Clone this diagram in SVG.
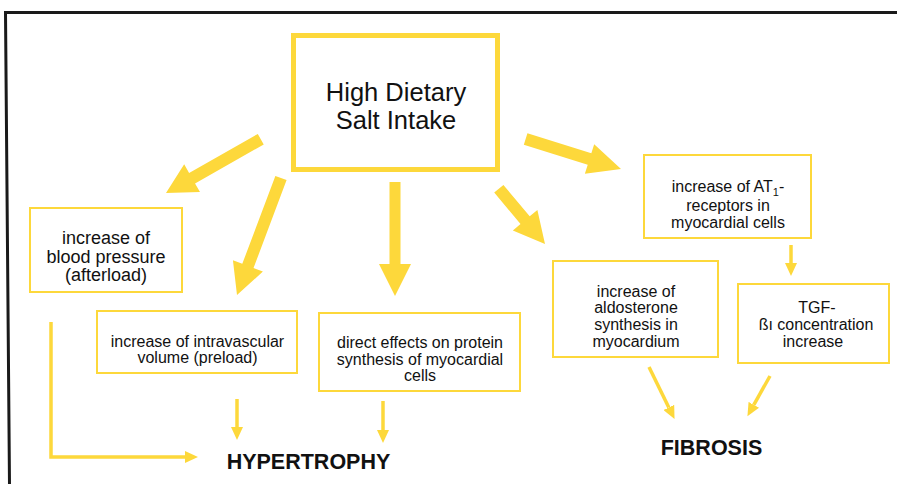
<svg xmlns="http://www.w3.org/2000/svg" width="897" height="484" viewBox="0 0 897 484">
  <style>
    .box { fill: #ffffff; stroke: #FDD83B; stroke-width: 2; }
    .main { fill: #ffffff; stroke: #FDD83B; stroke-width: 5; }
    .thick { fill: #FDD83B; stroke: none; }
    .thin { fill: none; stroke: #FDD83B; stroke-width: 3.5; }
    text { font-family: "Liberation Sans", Arial, sans-serif; fill: #111111; text-anchor: middle; }
    .t16 { font-size: 16px; }
    .t18 { font-size: 18px; }
    .title { font-size: 25.5px; }
    .out { font-size: 21.5px; font-weight: bold; }
  </style>
  <defs>
    <marker id="ah" markerUnits="userSpaceOnUse" markerWidth="14" markerHeight="12" refX="0" refY="6" orient="auto">
      <path d="M0,0 L13,6 L0,12 Z" fill="#FDD83B"/>
    </marker>
  </defs>
  <rect x="0" y="0" width="897" height="484" fill="#ffffff"/>
  <path d="M9.5,484 L5.5,12.5 L897,12.5" fill="none" stroke="#1a1a1a" stroke-width="3"/>

  <g id="connectors">
    <path class="thick" transform="translate(166,193) rotate(150.4)" d="M0,0 L-30,-16 L-30,-6 L-109,-6 L-109,6 L-30,6 L-30,16 Z"/>
    <path class="thick" transform="translate(237,295) rotate(110.6)" d="M0,0 L-31,-16 L-31,-6 L-125,-6 L-125,6 L-31,6 L-31,16 Z"/>
    <path class="thick" transform="translate(395,296) rotate(90)" d="M0,0 L-32,-16 L-32,-5.5 L-114,-5.5 L-114,5.5 L-32,5.5 L-32,16 Z"/>
    <path class="thick" transform="translate(545,244) rotate(50.1)" d="M0,0 L-31,-16 L-31,-6 L-72,-6 L-72,6 L-31,6 L-31,16 Z"/>
    <path class="thick" transform="translate(621,169) rotate(17.5)" d="M0,0 L-33,-15.5 L-33,-6 L-100,-6 L-100,6 L-33,6 L-33,15.5 Z"/>
    <path class="thin" d="M237,399 L237,427" marker-end="url(#ah)"/>
    <path class="thin" d="M383,401 L383,430" marker-end="url(#ah)"/>
    <path class="thin" d="M791,245 L791,263" marker-end="url(#ah)"/>
    <path class="thin" d="M51,322 L51,457 L185,457" marker-end="url(#ah)"/>
    <path class="thin" d="M649,367 L668.8,407.4" marker-end="url(#ah)"/>
    <path class="thin" d="M770,376 L753.8,404.8" marker-end="url(#ah)"/>
  </g>

  <g id="salt">
    <rect class="main" x="293.5" y="35.5" width="204" height="134"/>
    <text class="title" x="396" y="101">High Dietary</text>
    <text class="title" x="396" y="128.5">Salt Intake</text>
  </g>

  <g id="bloodpressure">
    <rect class="box" x="30" y="208" width="152" height="84"/>
    <text class="t18" x="106" y="244">increase of</text>
    <text class="t18" x="106" y="262.5">blood pressure</text>
    <text class="t18" x="106" y="281">(afterload)</text>
  </g>

  <g id="preload">
    <rect class="box" x="97" y="311" width="200" height="62"/>
    <text class="t16" x="197.5" y="347">increase of intravascular</text>
    <text class="t16" x="197.5" y="363">volume (preload)</text>
  </g>

  <g id="protein">
    <rect class="box" x="319" y="313" width="201" height="78"/>
    <text class="t16" x="420" y="348">direct effects on protein</text>
    <text class="t16" x="420" y="365">synthesis of myocardial</text>
    <text class="t16" x="420" y="381">cells</text>
  </g>

  <g id="at1">
    <rect class="box" x="644" y="155" width="167" height="83"/>
    <text class="t16" x="728" y="192">increase of AT<tspan font-size="11" dy="4">1</tspan><tspan dy="-4">-</tspan></text>
    <text class="t16" x="728" y="211">receptors in</text>
    <text class="t16" x="728" y="228">myocardial cells</text>
  </g>

  <g id="aldosterone">
    <rect class="box" x="553" y="261" width="165" height="96"/>
    <text class="t16" x="636" y="297">increase of</text>
    <text class="t16" x="636" y="313">aldosterone</text>
    <text class="t16" x="636" y="330">synthesis in</text>
    <text class="t16" x="636" y="347">myocardium</text>
  </g>

  <g id="tgf">
    <rect class="box" x="738" y="284" width="151" height="79"/>
    <text class="t16" x="817" y="313">TGF-</text>
    <text class="t16" x="816" y="330">ßı concentration</text>
    <text class="t16" x="813" y="347">increase</text>
  </g>

  <g id="hypertrophy">
    <text class="out" x="308.5" y="469">HYPERTROPHY</text>
  </g>

  <g id="fibrosis">
    <text class="out" x="711.5" y="455">FIBROSIS</text>
  </g>
</svg>
